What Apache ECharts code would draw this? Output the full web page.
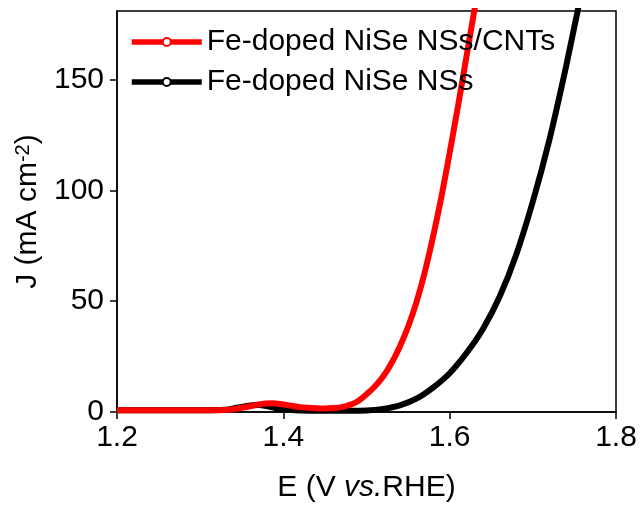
<!DOCTYPE html>
<html>
<head>
<meta charset="utf-8">
<script src="https://cdn.jsdelivr.net/npm/echarts@6/dist/echarts.min.js"></script>
<style>
  html, body { margin: 0; padding: 0; background: #fff; }
  #chart { width: 642px; height: 506px; }
</style>
</head>
<body>
<div id="chart"></div>
<script>
// LSV polarization curves: potential (V vs. RHE) and current density (mA cm^-2)
const seriesNames = ['Fe-doped NiSe NSs/CNTs', 'Fe-doped NiSe NSs'];

const cntPotential = [1.20, 1.25, 1.30, 1.33, 1.34, 1.35, 1.36, 1.37, 1.385, 1.40, 1.41, 1.42, 1.43, 1.44, 1.45, 1.46, 1.47, 1.48, 1.49, 1.50, 1.51, 1.52, 1.53, 1.54, 1.55, 1.56, 1.57, 1.58, 1.59, 1.60, 1.61, 1.62, 1.63, 1.635];
const cntCurrent   = [0.8, 0.8, 0.8, 0.9, 1.2, 1.9, 2.6, 3.4, 3.9, 3.4, 2.8, 2.2, 1.9, 1.7, 1.6, 1.8, 2.2, 3.2, 5.0, 8.0, 11.5, 16.0, 22.0, 29.5, 38.5, 49.5, 63.0, 79.0, 97.0, 117.0, 138.0, 160.0, 182.0, 193.0];

const nssPotential = [1.20, 1.25, 1.30, 1.33, 1.345, 1.36, 1.37, 1.38, 1.39, 1.40, 1.42, 1.45, 1.48, 1.50, 1.52, 1.54, 1.56, 1.58, 1.60, 1.62, 1.64, 1.66, 1.68, 1.70, 1.72, 1.74, 1.755, 1.765];
const nssCurrent   = [0.8, 0.8, 0.8, 1.0, 2.0, 3.0, 3.2, 2.7, 1.8, 1.1, 0.7, 0.6, 0.6, 0.7, 1.4, 3.0, 6.0, 11.0, 17.5, 26.5, 37.5, 52.0, 71.0, 95.0, 123.0, 156.0, 183.0, 200.0];

const xTicks = [1.2, 1.4, 1.6, 1.8];
const yTicks = [0, 50, 100, 150];

const pair = (xs, ys) => xs.map((x, i) => [x, ys[i]]);

const FONT = 'Arial, "Liberation Sans", sans-serif';
const chart = echarts.init(document.getElementById('chart'), null, { renderer: 'canvas' });

chart.setOption({
  backgroundColor: '#fff',
  animation: false,
  grid: {
    left: 117, right: 26, top: 11, bottom: 94,
    show: true, borderColor: '#000', borderWidth: 1.5,
    containLabel: false, outerBoundsMode: 'none'
  },
  legend: {
    orient: 'vertical',
    left: 129, top: 27, padding: 0,
    itemWidth: 70, itemHeight: 10, itemGap: 10,
    textStyle: { fontFamily: FONT, fontSize: 30, color: '#000' },
    lineStyle: { width: 5.5 },
    data: seriesNames
  },
  xAxis: {
    type: 'value',
    min: 1.2, max: 1.8, interval: 0.2,
    name: 'E (V {it|vs.}RHE)',
    nameLocation: 'middle', nameGap: 61,
    nameTextStyle: {
      fontFamily: FONT, fontSize: 30, color: '#000',
      rich: { it: { fontFamily: FONT, fontSize: 30, fontStyle: 'italic', color: '#000' } }
    },
    axisLine: { show: true, onZero: false, lineStyle: { color: '#000', width: 1.5 } },
    axisTick: { show: true, inside: false, length: 7, lineStyle: { color: '#000', width: 1.5 } },
    axisLabel: {
      fontFamily: FONT, fontSize: 30, color: '#000', margin: 11,
      customValues: xTicks,
      formatter: v => v.toFixed(1)
    },
    splitLine: { show: false }
  },
  yAxis: {
    type: 'value',
    min: 0, max: 181, interval: 50,
    name: 'J (mA cm{sup|-2})',
    nameLocation: 'middle', nameGap: 73, nameRotate: 90,
    nameTextStyle: {
      fontFamily: FONT, fontSize: 30, color: '#000',
      rich: {
        sup: { fontFamily: FONT, fontSize: 20, color: '#000', verticalAlign: 'top', lineHeight: 20 }
      }
    },
    axisLine: { show: true, lineStyle: { color: '#000', width: 1.5 } },
    axisTick: { show: true, inside: false, length: 7, customValues: yTicks, lineStyle: { color: '#000', width: 1.5 } },
    axisLabel: {
      fontFamily: FONT, fontSize: 30, color: '#000', margin: 13,
      customValues: yTicks
    },
    splitLine: { show: false }
  },
  series: [
    {
      name: seriesNames[1],
      type: 'line',
      data: pair(nssPotential, nssCurrent),
      smooth: 0.3,
      symbol: 'emptyCircle', symbolSize: 7, showSymbol: false,
      lineStyle: { color: '#000', width: 6 },
      itemStyle: { color: '#000' },
      clip: true, z: 2
    },
    {
      name: seriesNames[0],
      type: 'line',
      data: pair(cntPotential, cntCurrent),
      smooth: 0.3,
      symbol: 'emptyCircle', symbolSize: 7, showSymbol: false,
      lineStyle: { color: '#ff0000', width: 6 },
      itemStyle: { color: '#ff0000' },
      clip: true, z: 3
    }
  ]
});
</script>
</body>
</html>
